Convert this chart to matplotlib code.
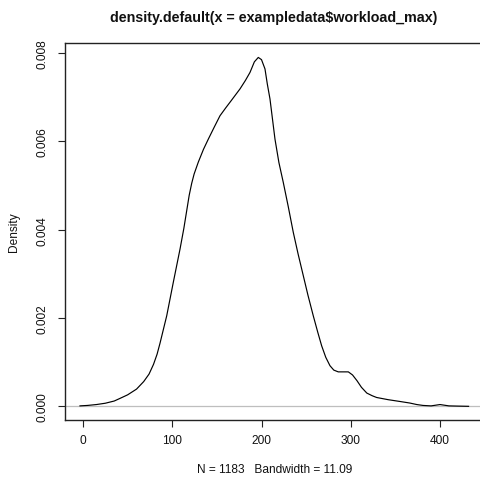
import matplotlib
matplotlib.use("Agg")
import matplotlib.pyplot as plt

# density estimate (x = workload_max, y = density)
density_x = [-3.4, 5, 15, 25, 35, 41.5, 50, 60, 68, 74, 79, 83, 86.3, 93.8,
             101.2, 108.7, 113, 116.2, 119, 121.8, 124.5, 129.2, 135, 140.4,
             147, 153.5, 160, 166, 176, 182, 187.1, 192, 196.4, 200, 203.9,
             206.5, 209.5, 215.1, 219.5, 224.4, 230, 235.6, 241, 246.8, 252,
             258, 263, 267.4, 272, 276.7, 281, 286, 292, 297.3, 302, 307, 312,
             318, 324, 329, 342, 355, 366, 374, 381, 390, 400, 410, 420, 432]
density_y = [0.00001, 0.00002, 0.00004, 0.00007, 0.00012, 0.00018, 0.00026,
             0.00039, 0.00056, 0.00073, 0.00095, 0.00118, 0.00143, 0.00205,
             0.00281, 0.00356, 0.00403, 0.00443, 0.00478, 0.00505, 0.00526,
             0.00553, 0.00582, 0.00605, 0.00632, 0.00658, 0.00676, 0.00692,
             0.00719, 0.00738, 0.00756, 0.0078, 0.0079, 0.00785, 0.00764,
             0.0073, 0.00696, 0.00605, 0.00552, 0.00507, 0.00452, 0.00394,
             0.00345, 0.00296, 0.00252, 0.00205, 0.00168, 0.00137, 0.00111,
             0.00092, 0.00082, 0.00078, 0.00078, 0.00078, 0.00071, 0.00058,
             0.00043, 0.0003, 0.00024, 0.0002, 0.00015, 0.00011, 0.000075,
             0.00004, 0.00002, 0.00001, 0.00004, 0.00001, 0.000005, 0.0]
x_ticks = [0, 100, 200, 300, 400]
y_ticks = [0.000, 0.002, 0.004, 0.006, 0.008]

title = "density.default(x = exampledata$workload_max)"
xlabel = "N = 1183   Bandwidth = 11.09"
ylabel = "Density"

plt.rcParams["font.family"] = ["Liberation Sans", "DejaVu Sans"]

W = H = 481
fig = plt.figure(figsize=(W / 100, H / 100), dpi=100)

# plot region in pixels: left 64.5, top 44.3, bottom 420.7, right edge past the image
left, top, bottom, right = 64.5, 44.3, 420.7, 484.0
ax = fig.add_axes([left / W, 1 - bottom / H, (right - left) / W, (bottom - top) / H])
ax.set_xlim(-20.73, 449.3)
ax.set_ylim(-0.000303, 0.00822)

ax.axhline(0, color="#BEBEBE", lw=0.9, zorder=1)
ax.plot(density_x, density_y, color="black", lw=0.85, zorder=2)

ax.set_xticks(x_ticks)
ax.set_xticklabels([str(v) for v in x_ticks])
ax.set_yticks(y_ticks)
ax.set_yticklabels([f"{v:.3f}" for v in y_ticks], rotation=90, va="center")

for s in ax.spines.values():
    s.set_color("#222222")
    s.set_linewidth(1.0)
ax.tick_params(direction="out", length=5.0, width=0.8, color="#222222",
               labelsize=8.6, labelcolor="#111111")
ax.tick_params(axis="x", pad=5.5)
ax.tick_params(axis="y", pad=6.5)

fig.text(274 / W, 1 - 18 / H, title, ha="center", va="center",
         fontsize=10.3, fontweight="bold", color="#111111")
fig.text(275 / W, 1 - 470.5 / H, xlabel, ha="center", va="center",
         fontsize=8.6, color="#111111")
fig.text(14 / W, 1 - ((top + bottom) / 2) / H, ylabel, ha="center", va="center",
         rotation=90, fontsize=8.6, color="#111111")

fig.savefig("out.png", dpi=100)
